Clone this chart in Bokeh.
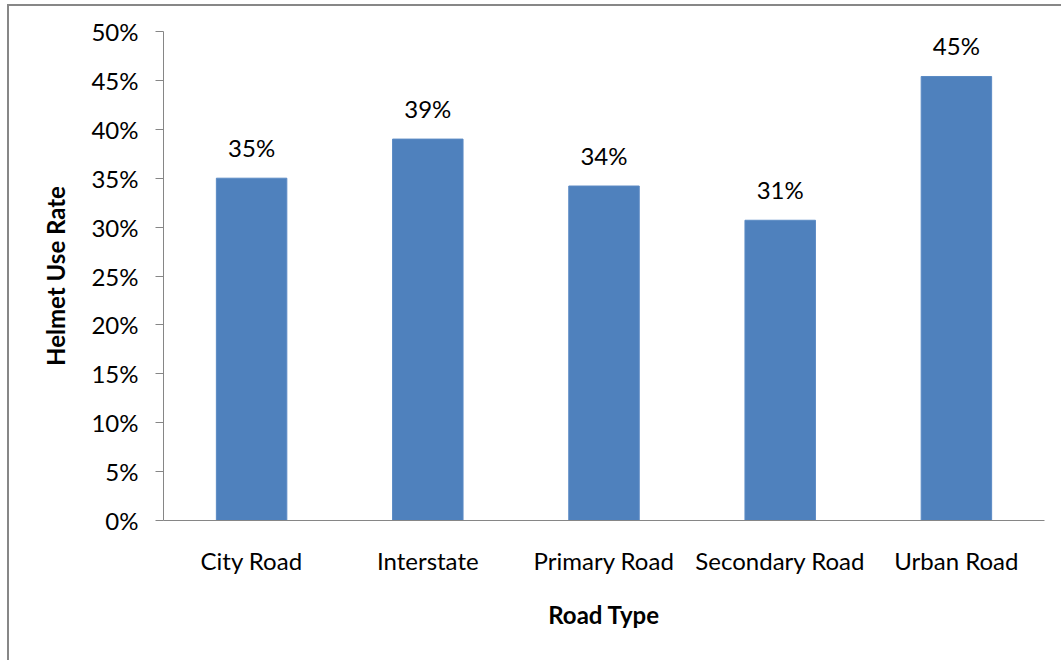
from bokeh.plotting import figure
from bokeh.models import (ColumnDataSource, FactorRange, Range1d, NumeralTickFormatter,
                          FixedTicker, LabelSet)
from bokeh.core.properties import value
from bokeh.embed import file_html
from bokeh.resources import INLINE

categories = ["City Road", "Interstate", "Primary Road", "Secondary Road", "Urban Road"]
helmet_rate = [0.350, 0.390, 0.342, 0.307, 0.454]
y_ticks = [0.0, 0.05, 0.10, 0.15, 0.20, 0.25, 0.30, 0.35, 0.40, 0.45, 0.50]

labels = [f"{round(v * 100):.0f}%" for v in helmet_rate]
src = ColumnDataSource(dict(cat=categories, val=helmet_rate, lab=labels))

FONT = "Lato"
AXIS_GRAY = "#868686"

p = figure(width=1052, height=654, x_range=FactorRange(*categories), y_range=Range1d(0, 0.5),
           output_backend="svg", toolbar_location=None,
           min_border_left=154, min_border_right=19, min_border_top=25, min_border_bottom=142)
p.styles = {"margin-left": "7px", "margin-top": "4px",
            "border-left": "2px solid #878787", "border-top": "2px solid #878787",
            "box-sizing": "content-box"}
p.outline_line_color = None
p.xgrid.grid_line_color = None
p.ygrid.grid_line_color = None
p.background_fill_color = "white"
p.border_fill_color = "white"

p.vbar(x="cat", top="val", width=0.40, source=src, fill_color="#4F81BD", line_color="#5B8AC4",
       line_width=1)

p.add_layout(LabelSet(x="cat", y="val", text="lab", source=src, text_align="center",
                      text_baseline="alphabetic", y_offset=21, text_font=value(FONT),
                      text_font_size="24px", text_color="#000000"))

# y axis
ya = p.yaxis[0]
ya.ticker = FixedTicker(ticks=y_ticks)
ya.formatter = NumeralTickFormatter(format="0%")
ya.axis_line_color = AXIS_GRAY
ya.major_tick_line_color = AXIS_GRAY
ya.major_tick_out = 8
ya.major_tick_in = 0
ya.minor_tick_line_color = None
ya.major_label_standoff = 17
ya.major_label_text_font = FONT
ya.major_label_text_font_size = "24px"
ya.major_label_text_color = "#000000"
ya.axis_label = "Helmet Use Rate"
ya.axis_label_text_font = FONT
ya.axis_label_text_font_style = "bold"
ya.axis_label_text_font_size = "24px"
ya.axis_label_text_color = "#000000"
ya.axis_label_standoff = 18

# x axis
xa = p.xaxis[0]
xa.axis_line_color = AXIS_GRAY
xa.major_tick_line_color = None
xa.major_tick_out = 0
xa.major_tick_in = 0
xa.minor_tick_line_color = None
xa.major_label_standoff = 25
xa.major_label_text_font = FONT
xa.major_label_text_font_size = "24px"
xa.major_label_text_color = "#000000"
xa.axis_label = "Road Type"
xa.axis_label_text_font = FONT
xa.axis_label_text_font_style = "bold"
xa.axis_label_text_font_size = "24px"
xa.axis_label_text_color = "#000000"
xa.axis_label_standoff = 22

open("out.html", "w").write(file_html(p, INLINE))
